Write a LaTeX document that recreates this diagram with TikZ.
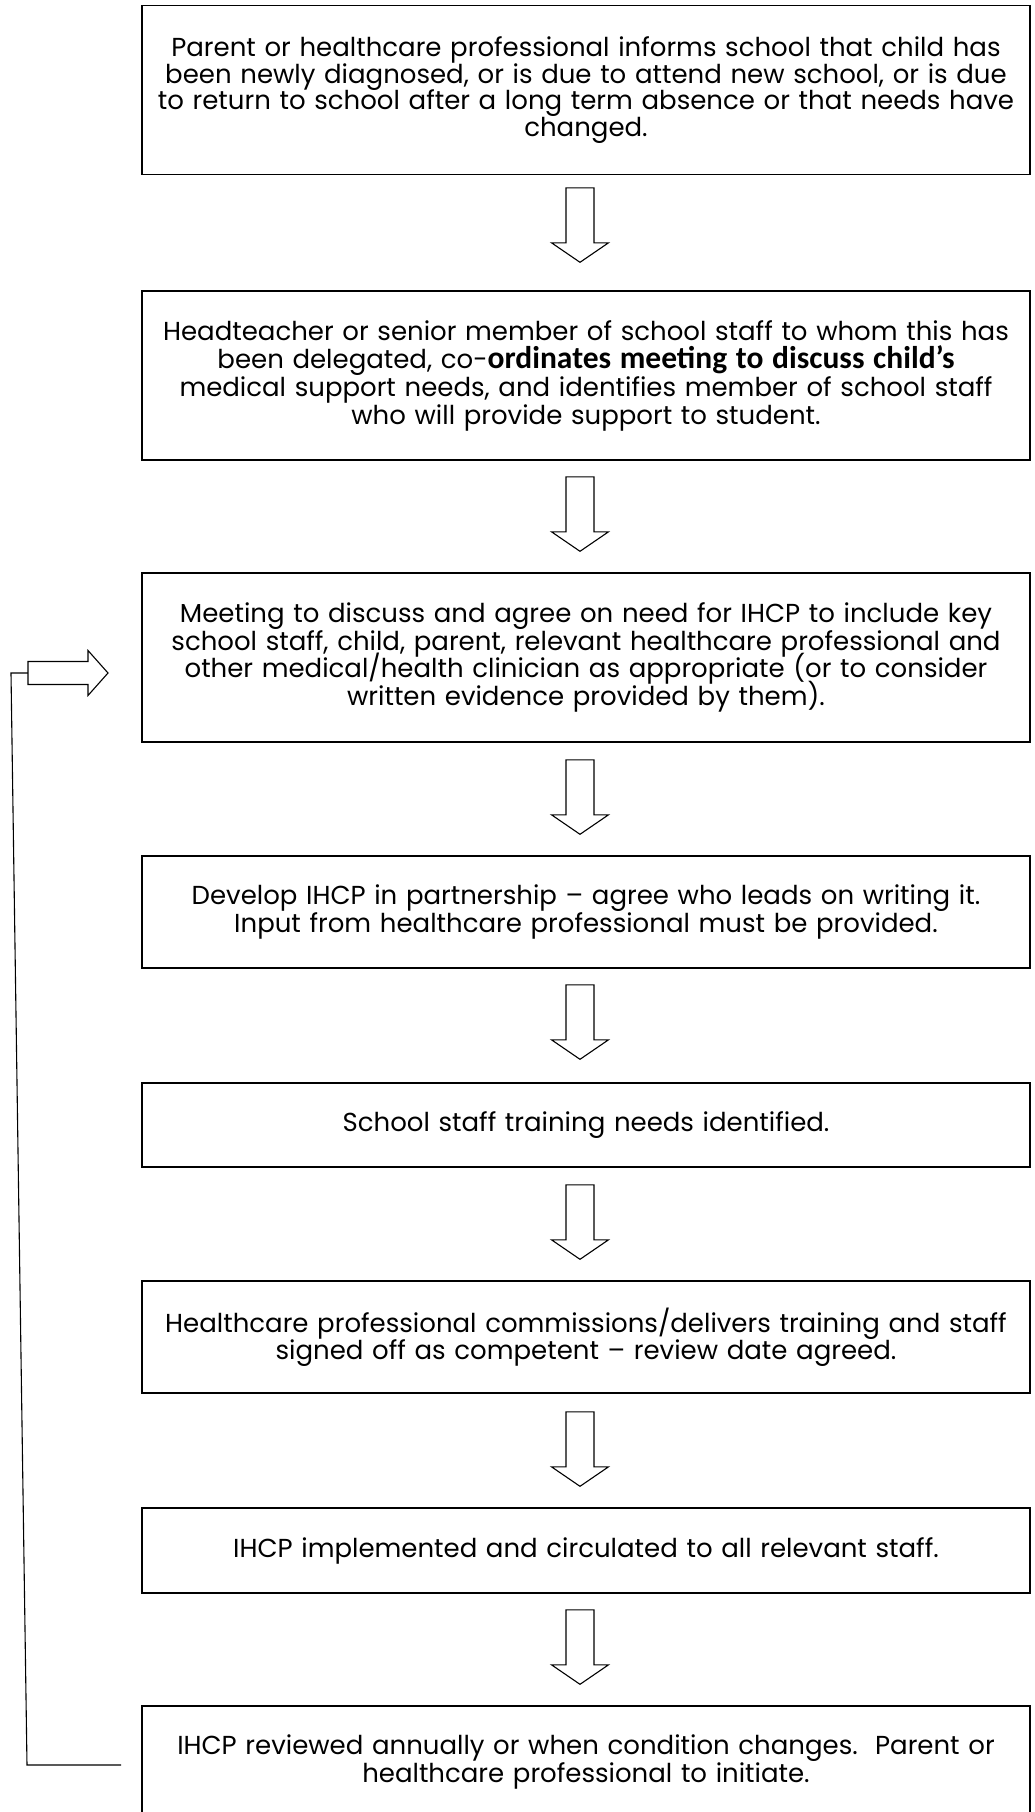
\documentclass[tikz,border=0pt]{standalone}
\usepackage{fontspec}
\setmainfont{Poppins}
\newfontfamily\calibri{Carlito}
\usetikzlibrary{calc}
\begin{document}
\begin{tikzpicture}[x=1pt,y=-1pt,
  pitch/.style={execute at begin node={\setlength{\lineskiplimit}{-40pt}\setlength{\lineskip}{0pt}\setlength{\baselineskip}{#1pt}}},
  box/.style={draw, line width=1.6pt, text width=880pt, inner xsep=4pt, inner ysep=0pt, align=center, font=\fontsize{26}{26}\selectfont, pitch=27.5},
  barrow/.style={draw, line width=1.1pt, fill=white, line join=miter},
  fb/.style={draw, line width=1.1pt}]
\useasboundingbox (0,0) rectangle (1034,1812);
\node[box, minimum height=169pt, pitch=26.5] (b1) at (586,90) {Parent or healthcare professional informs school that child has\\been newly diagnosed, or is due to attend new school, or is due\\to return to school after a long term absence or that needs have\\changed.};
\node[box, minimum height=169pt, pitch=28] (b2) at (586,375.5) {Headteacher or senior member of school staff to whom this has\\been delegated, co-{\calibri\bfseries\fontsize{31.5}{28}\selectfont ordinates meeting to discuss child’s}\\medical support needs, and identifies member of school staff\\who will provide support to student.};
\node[box, minimum height=169pt] (b3) at (586,657.5) {Meeting to discuss and agree on need for IHCP to include key\\school staff, child, parent, relevant healthcare professional and\\other medical/health clinician as appropriate (or to consider\\written evidence provided by them).};
\node[box, minimum height=112pt] (b4) at (586,912) {Develop IHCP in partnership – agree who leads on writing it.\\Input from healthcare professional must be provided.};
\node[box, minimum height=84pt] (b5) at (586,1125) {School staff training needs identified.};
\node[box, minimum height=112pt] (b6) at (586,1337) {Healthcare professional commissions/delivers training and staff\\signed off as competent – review date agreed.};
\node[box, minimum height=85pt] (b7) at (586,1550.5) {IHCP implemented and circulated to all relevant staff.};
\node[box, minimum height=112pt] (b8) at (586,1762) {IHCP reviewed annually or when condition changes.\ \ Parent or\\healthcare professional to initiate.};
\coordinate (a1) at ($(b1.south)+(-6,12.5)$);
\coordinate (a2) at ($(b2.south)+(-6,16)$);
\coordinate (a3) at ($(b3.south)+(-6,17)$);
\coordinate (a4) at ($(b4.south)+(-6,16)$);
\coordinate (a5) at ($(b5.south)+(-6,17)$);
\coordinate (a6) at ($(b6.south)+(-6,18)$);
\coordinate (a7) at ($(b7.south)+(-6,16)$);
\foreach \a in {a1,a2,a3,a4,a5,a6,a7}{
  \draw[barrow] (\a) ++(-14,0) -- ++(28,0) -- ++(0,55) -- ++(14.5,0) -- ++(-28.5,19.5) -- ++(-28.5,-19.5) -- ++(14.5,0) -- cycle;
}
\coordinate (fs) at ($(b8.west)+(-20,3)$);
\coordinate (fc) at (27,1765);
\coordinate (ft) at (11,673);
\coordinate (ra) at (28,673);
\draw[fb] (fs) -- (fc) -- (ft) -- (ra);
\draw[barrow] (ra) ++(0,-11.5) -- ++(60,0) -- ++(0,-11) -- ++(20,22.5) -- ++(-20,22.5) -- ++(0,-11) -- ++(-60,0) -- cycle;
\end{tikzpicture}
\end{document}
